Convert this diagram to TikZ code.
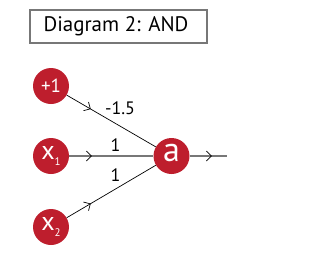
\documentclass[tikz,border=0pt]{standalone}
\usepackage{fontspec}
\setmainfont{PT Sans}
\usetikzlibrary{arrows.meta,decorations.markings}
\definecolor{nodered}{HTML}{BE1E2D}
\definecolor{linegray}{HTML}{777777}
\tikzset{
  neuron/.style={circle, fill=nodered, draw=none, minimum size=36pt, inner sep=0pt, text=white},
  thinedge/.style={draw=black, line width=0.7pt},
  thickedge/.style={draw=linegray, line width=1.8pt},
  midarrow/.style={postaction={decorate}, decoration={markings, mark=at position #1 with {\arrow[black, line width=0.7pt]{Straight Barb[length=5pt,width=10pt]}}}},
  wlabel/.style={font=\fontsize{18}{20}\selectfont, inner sep=0pt},
  titlebox/.style={draw=linegray, line width=1.4pt, minimum width=177pt, minimum height=33pt, inner sep=0pt, font=\fontsize{21}{23}\selectfont}
}
\begin{document}
\begin{tikzpicture}[x=1pt,y=-1pt]
\useasboundingbox (0,0) rectangle (324,271);
\node[titlebox] (title) at (118.5,26.5) {\hspace*{-5pt}Diagram 2: AND};
\node[neuron, font=\fontsize{19}{21}\selectfont] (b) at (51,86) {+1};
\node[neuron, font=\fontsize{26}{28}\selectfont] (x1) at (51,156) {\raisebox{0.2ex}{x}\raisebox{-0.3ex}{\fontsize{11}{13}\selectfont 1}};
\node[neuron, font=\fontsize{26}{28}\selectfont] (x2) at (51,227) {\raisebox{0.2ex}{x}\raisebox{-0.3ex}{\fontsize{11}{13}\selectfont 2}};
\node[neuron, font=\fontsize{34}{36}\selectfont] (a) at (171.5,156) {\raisebox{0.35ex}{a}};
\coordinate (out) at (226.5,156);
\draw[thinedge, midarrow=0.27] (b) -- (a);
\draw[thickedge, midarrow=0.27] (x1) -- (a);
\draw[thinedge, midarrow=0.27] (x2) -- (a);
\draw[thickedge, midarrow=0.6] (a) -- (out);
\node[wlabel] (l1) at (120,108) {-1.5};
\node[wlabel] (l2) at (115.5,145) {1};
\node[wlabel] (l3) at (115.5,175) {1};
\end{tikzpicture}
\end{document}
